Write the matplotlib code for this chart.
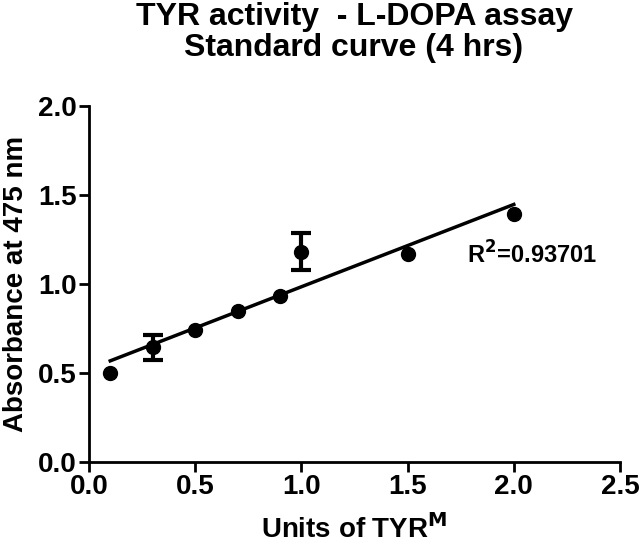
import numpy as np
import matplotlib
matplotlib.use("Agg")
import matplotlib.pyplot as plt

plt.rcParams['font.family'] = ['Liberation Sans', 'DejaVu Sans']
plt.rcParams['font.weight'] = 'bold'

# TYR units vs absorbance (mean, SEM)
units = [0.1, 0.3, 0.5, 0.7, 0.9, 1.0, 1.5, 2.0]
absorbance = [0.50, 0.644, 0.742, 0.85, 0.934, 1.181, 1.17, 1.392]
errors = [0.0, 0.071, 0.0, 0.0, 0.0, 0.103, 0.0, 0.0]
r2_text = "R$^{\\mathbf{2}}$=0.93701"

fig = plt.figure(figsize=(6.4, 5.51), dpi=100)
ax = fig.add_axes([89 / 640, 1 - 462 / 551, 531 / 640, 356 / 551])

# linear fit through the data
slope, intercept = np.polyfit(units, absorbance, 1)
xf = np.array([min(units), max(units)])
ax.plot(xf, slope * xf + intercept, color='black', lw=2.5, zorder=2)

# points, error bars only where there is a spread
ax.plot(units, absorbance, 'o', color='black', ms=10, zorder=3)
eu = [u for u, e in zip(units, errors) if e > 0]
ea = [a for a, e in zip(absorbance, errors) if e > 0]
ee = [e for e in errors if e > 0]
ax.errorbar(eu, ea, yerr=ee, fmt='none', ecolor='black',
            elinewidth=3, capsize=7, capthick=3, zorder=3)

ax.text(1.78, 1.165, r2_text, fontsize=17, fontweight='bold', va='center')

ax.set_xlim(0, 2.5)
ax.set_ylim(0, 2.0)
ax.set_xticks([0.0, 0.5, 1.0, 1.5, 2.0, 2.5])
ax.set_yticks([0.0, 0.5, 1.0, 1.5, 2.0])
ax.xaxis.set_major_formatter(matplotlib.ticker.FormatStrFormatter('%.1f'))
ax.yaxis.set_major_formatter(matplotlib.ticker.FormatStrFormatter('%.1f'))
for s in ['top', 'right']:
    ax.spines[s].set_visible(False)
for s in ['left', 'bottom']:
    ax.spines[s].set_linewidth(2)
ax.tick_params(direction='out', length=7, width=2, labelsize=20, pad=2)
for lab in ax.get_xticklabels() + ax.get_yticklabels():
    lab.set_fontweight('bold')

ax.set_xlabel("Units of TYR$^{\\mathbf{M}}$", fontsize=20, fontweight='bold', labelpad=10)
ax.set_ylabel("Absorbance at 475 nm", fontsize=20, fontweight='bold', labelpad=6)
fig.text(354 / 640, 1 - 2 / 551, "TYR activity  - L-DOPA assay\nStandard curve (4 hrs)",
         fontsize=23, fontweight='bold', ha='center', va='top', linespacing=1.05)

fig.savefig("out.png", dpi=100)
